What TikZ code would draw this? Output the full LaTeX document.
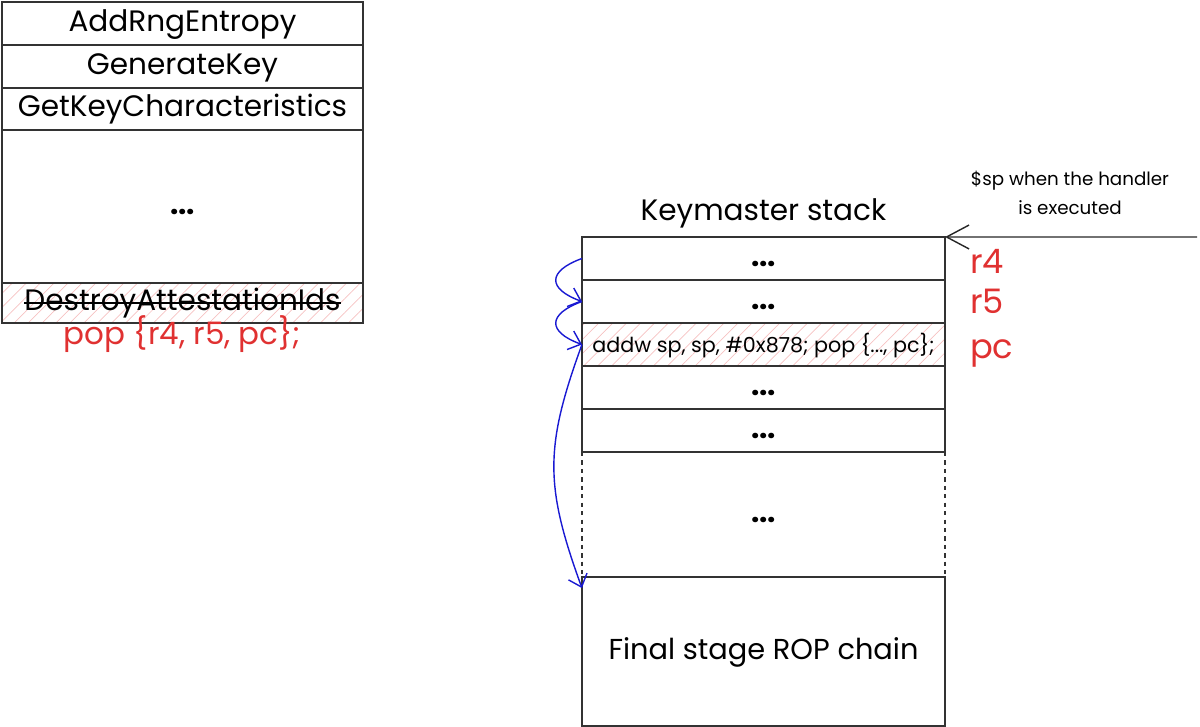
\documentclass[tikz,border=0pt]{standalone}
\usepackage{fontspec}
\setmainfont{Poppins}
\usetikzlibrary{positioning,arrows.meta,patterns.meta}
\definecolor{xred}{RGB}{224,49,49}
\definecolor{xblue}{RGB}{25,25,210}
\tikzset{
  cell/.style={draw=black!80,line width=1.3pt,inner sep=0pt,outer sep=0pt,minimum height=1.075cm,
    text height=15pt,text depth=4pt,font=\fontsize{21}{24}\selectfont},
  lcell/.style={cell,minimum width=9.025cm},
  kcell/.style={cell,minimum width=9.075cm},
  hatch/.style={pattern={Lines[angle=45,distance=7pt,line width=0.5pt]},pattern color=xred!30},
  reg/.style={text=xred,font=\fontsize{24}{26}\selectfont},
  hop/.style={xblue,line width=1pt,-{Straight Barb[length=8pt,width=14pt]}}
}
\begin{document}
\begin{tikzpicture}[x=0.025cm,y=0.025cm]
\useasboundingbox (0,0) rectangle (1200,727);
% handler table
\node[lcell] (a1) at (182.5,703.5) {AddRngEntropy};
\node[lcell,below=0pt of a1] (a2) {GenerateKey};
\node[lcell,below=0pt of a2,minimum height=1.05cm] (a3) {GetKeyCharacteristics};
\node[lcell,below=0pt of a3,minimum height=3.825cm] (a4) {\textbf{...}};
\node[lcell,hatch,below=0pt of a4,minimum height=1cm] (a5) {};
\node[inner sep=0pt,font=\fontsize{21}{24}\selectfont] (dai) at (a5) {DestroyAttestationIds};
\draw[line width=1.1pt] ([yshift=5.5pt]dai.base west) -- ([yshift=5.5pt]dai.base east);
\node[reg,below=-9pt of a5,font=\fontsize{22}{24}\selectfont] (pop) {pop \{r4, r5, pc\};};
% keymaster stack
\node[kcell] (k1) at (763.5,468.5) {\textbf{...}};
\node[kcell,below=0pt of k1] (k2) {\textbf{...}};
\node[kcell,hatch,below=0pt of k2,font=\fontsize{14.7}{17}\selectfont] (k3) {addw sp, sp, \#0x878; pop \{..., pc\};};
\node[kcell,below=0pt of k3] (k4) {\textbf{...}};
\node[kcell,below=0pt of k4] (k5) {\textbf{...}};
\node[kcell,draw=none,below=0pt of k5,minimum height=3.125cm] (k6) {\textbf{...}};
\node[kcell,below=0pt of k6,minimum height=3.725cm,font=\fontsize{20.5}{24}\selectfont] (k7) {Final stage ROP chain};
\draw[dashed,line width=1.3pt,black!80] (k6.north west) -- (k6.south west) (k6.north east) -- (k6.south east);
\node[above=3pt of k1,font=\fontsize{21}{24}\selectfont] (title) {Keymaster stack};
% saved registers
\node[reg,right=0.5cm of k1,yshift=-0.08cm] (r4) {r4};
\node[reg,right=0.5cm of k2] (r5) {r5};
\node[reg,right=0.5cm of k3,yshift=-0.22cm] (pc) {pc};
% stack pointer
\node[align=center,font=\fontsize{13}{21}\selectfont] (note) at (1070,534) {\$sp when the handler\\is executed};
\coordinate (sp) at (1197,490);
\draw[line width=1pt,black!85,-{Straight Barb[length=16pt,width=17pt]}] (sp) -- (k1.north east);
% pivots
\draw[hop] (k1.west) to[out=200,in=160,looseness=2.2] (k2.west);
\draw[hop] (k2.west) to[out=200,in=160,looseness=2.2] (k3.west);
\draw[hop] (k3.west) to[out=250,in=110,looseness=1.15] ([yshift=-0.275cm]k7.north west);
\end{tikzpicture}
\end{document}
